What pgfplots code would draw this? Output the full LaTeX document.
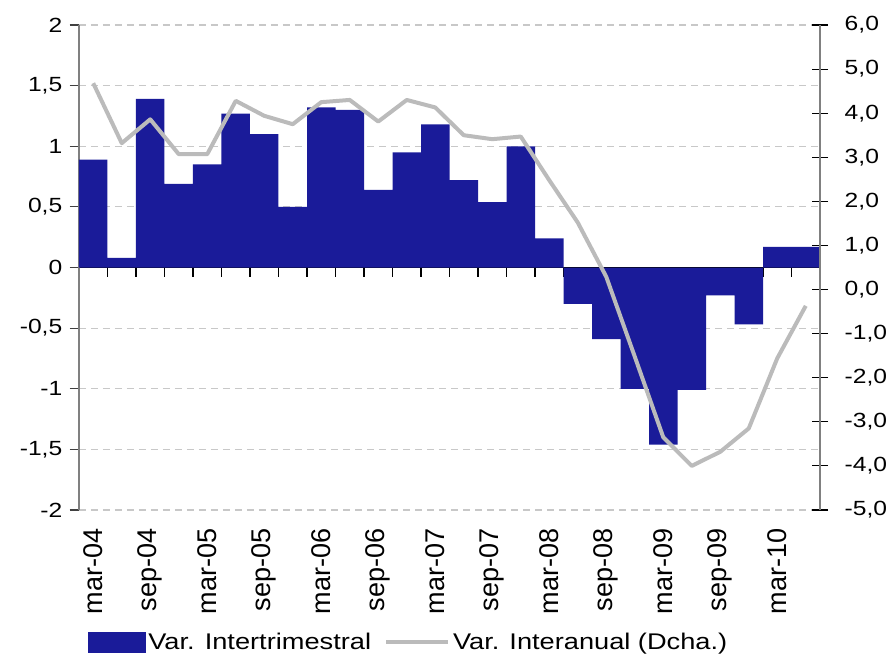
\documentclass[border=0pt]{standalone}
\usepackage{pgfplots}
\pgfplotsset{compat=1.18}
\usepackage{fontspec}
\setmainfont{Liberation Sans}
\newfontfamily\wfont{Liberation Sans}[FakeStretch=1.2]
\definecolor{barblue}{RGB}{26,27,153}
\definecolor{linegray}{RGB}{187,187,187}
\definecolor{axgray}{RGB}{128,128,128}
\definecolor{gridgray}{RGB}{200,200,200}
\begin{document}
\begin{tikzpicture}
\useasboundingbox (-59.25pt,-108pt) rectangle (608.25pt,382.5pt);
\begin{axis}[
  scale only axis, width=555.75pt, height=363.75pt,
  xmin=-0.5, xmax=25.5, ymin=-2, ymax=2,
  axis x line*=middle,
  axis y line*=left,
  xtick={-0.5,0.5,...,25.5}, xticklabels={},
  xtick align=outside,
  major x tick style={black, line width=0.8pt},
  major tick length=7pt,
  x axis line style={black, line width=0.8pt},
  y axis line style={axgray, line width=1.2pt},
  ytick={-2,-1.5,...,2},
  yticklabels={-2,{-1,5},-1,{-0,5},0,{0,5},1,{1,5},2},
  ytick align=outside,
  major y tick style={black!75, line width=0.8pt},
  ymajorgrids,
  grid style={gridgray, dash pattern=on 5pt off 4pt, line width=0.8pt},
  yticklabel style={font=\wfont\fontsize{15.4}{18}\selectfont, anchor=east, xshift=-2pt},
]
\addplot[ybar, bar width=1, fill=barblue, draw=none] coordinates {
(0,0.89) (1,0.08) (2,1.39) (3,0.69) (4,0.85) (5,1.27) (6,1.10) (7,0.50)
(8,1.32) (9,1.30) (10,0.64) (11,0.95) (12,1.18) (13,0.72) (14,0.54) (15,1.00)
(16,0.24) (17,-0.30) (18,-0.59) (19,-1.00) (20,-1.46) (21,-1.01) (22,-0.23) (23,-0.47)
(24,0.17) (25,0.17)};
\end{axis}
\begin{axis}[
  scale only axis, width=555.75pt, height=363.75pt,
  xmin=-0.5, xmax=25.5, ymin=-5, ymax=6,
  axis x line*=bottom,
  x axis line style={draw=none},
  major x tick style={draw=none},
  xtick={0,2,...,24},
  xticklabels={mar-04,sep-04,mar-05,sep-05,mar-06,sep-06,mar-07,sep-07,mar-08,sep-08,mar-09,sep-09,mar-10},
  xticklabel style={yshift=-10.5pt, rotate=90, anchor=east, font=\fontsize{20.3}{23}\selectfont},
  axis y line*=right,
  y axis line style={axgray, line width=1.2pt},
  ytick={-5,-4,...,6},
  yticklabels={{-5,0},{-4,0},{-3,0},{-2,0},{-1,0},{0,0},{1,0},{2,0},{3,0},{4,0},{5,0},{6,0}},
  ytick align=center,
  major tick length=12pt,
  major y tick style={black, line width=0.8pt},
  yticklabel style={font=\wfont\fontsize{15.4}{18}\selectfont, anchor=west, xshift=9pt},
  legend style={at={(rel axis cs:0.012,-0.2969)}, anchor=south west, draw=none, fill=none,
    inner sep=0pt, font=\wfont\fontsize{17}{20}\selectfont,
    /tikz/every even column/.append style={column sep=8pt}},
  legend columns=2,
  legend cell align=left,
]
\addlegendimage{legend image code/.code={\fill[barblue] (0pt,-7.5pt) rectangle (42.75pt,7.5pt);}}
\addlegendentry{Var. Intertrimestral}
\addplot[linegray, line width=3pt, line join=round, sharp plot,
  legend image code/.code={\draw[linegray, line width=3pt] (0pt,0pt) -- (46.5pt,0pt);}] coordinates {
(0,4.68) (1,3.32) (2,3.86) (3,3.07) (4,3.07) (5,4.28) (6,3.94) (7,3.75)
(8,4.25) (9,4.30) (10,3.81) (11,4.30) (12,4.13) (13,3.50) (14,3.41) (15,3.47)
(16,2.48) (17,1.52) (18,0.29) (19,-1.52) (20,-3.35) (21,-4.00) (22,-3.68) (23,-3.15)
(24,-1.56) (25,-0.37)};
\addlegendentry{Var. Interanual (Dcha.)}
\end{axis}
\end{tikzpicture}
\end{document}
